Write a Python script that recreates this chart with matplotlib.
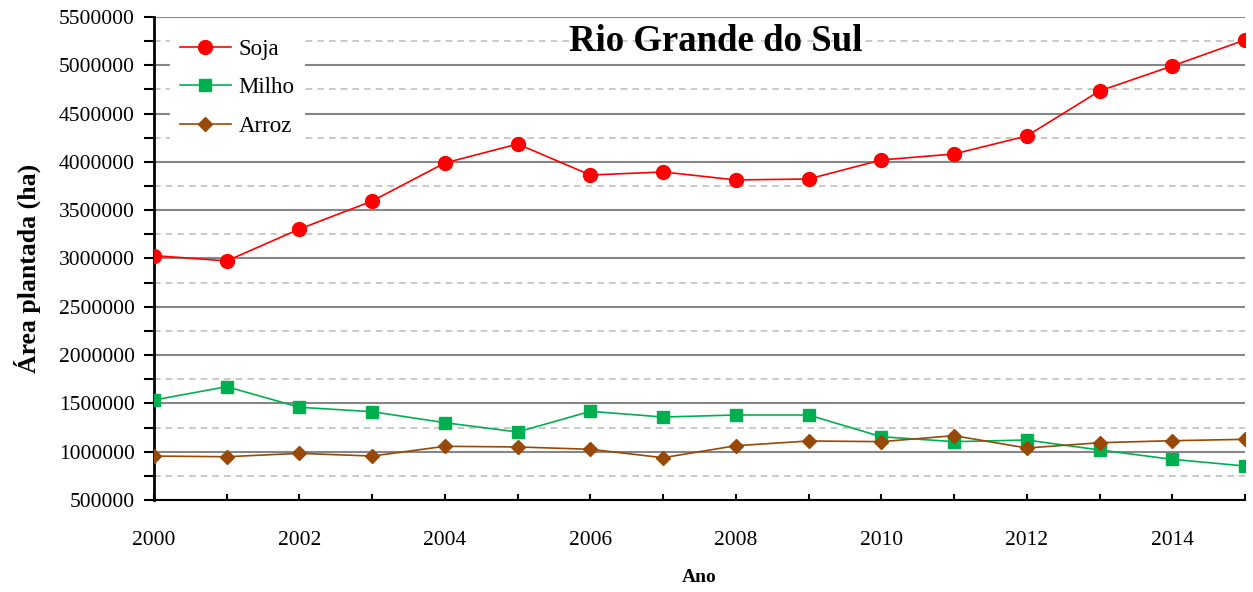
import numpy as np
import matplotlib.pyplot as plt
from matplotlib.ticker import MultipleLocator, FormatStrFormatter

plt.rcParams['font.family'] = ['Liberation Serif', 'DejaVu Serif']

anos = np.arange(2000, 2016)
soja = [3030000, 2975000, 3305000, 3595000, 3989000, 4185000, 3864000, 3896000,
        3813000, 3823000, 4020000, 4082000, 4268000, 4734000, 4993000, 5262000]
milho = [1535000, 1673000, 1460000, 1414000, 1300000, 1204000, 1418000, 1359000,
         1380000, 1380000, 1155000, 1104000, 1121000, 1018000, 921000, 852000]
arroz = [955000, 948000, 983000, 955000, 1056000, 1049000, 1025000, 938000,
         1062000, 1111000, 1104000, 1166000, 1038000, 1093000, 1114000, 1128000]

fig = plt.figure(figsize=(12.53, 5.92), dpi=100)
ax = fig.add_axes([0.1229, 0.1554, 0.8707, 0.8159])

ax.plot(anos, soja, color='#FF0000', marker='o', markersize=10, lw=1.2, label='Soja', zorder=3)
ax.plot(anos, milho, color='#00B050', marker='s', markersize=8, lw=1.2, label='Milho', zorder=3)
ax.plot(anos, arroz, color='#984807', marker='D', markersize=7, lw=1.2, label='Arroz', zorder=3)

ax.set_xlim(2000, 2015)
ax.set_ylim(500000, 5500000)
ax.set_xticks(range(2000, 2015, 2))
ax.xaxis.set_minor_locator(MultipleLocator(1))
ax.yaxis.set_major_locator(MultipleLocator(500000))
ax.yaxis.set_minor_locator(MultipleLocator(250000))
ax.yaxis.set_major_formatter(FormatStrFormatter('%d'))
ax.grid(axis='y', which='major', color='#868686', lw=1.5)
ax.grid(axis='y', which='minor', color='#C0C0C0', lw=1.2, ls=(0, (4, 3)))
ax.set_axisbelow(True)

for s in ['top', 'right']:
    ax.spines[s].set_visible(False)
ax.spines['bottom'].set_linewidth(1.5)
ax.spines['left'].set_linewidth(2)
ax.tick_params(axis='y', which='both', direction='out', length=7, width=1.5, labelsize=15.5, pad=7)
ax.tick_params(axis='x', which='both', direction='in', length=4, width=1.5, labelsize=15.5, pad=22)

ax.set_xlabel('Ano', fontsize=14, fontweight='bold', labelpad=14)
ax.set_ylabel('Área plantada (ha)', fontsize=18.5, fontweight='bold')
ax.yaxis.set_label_coords(-0.104, 0.48)
ax.text(0.515, 0.986, 'Rio Grande do Sul', transform=ax.transAxes, ha='center', va='top',
        fontsize=26.5, fontweight='bold')

leg = ax.legend(loc='upper left', bbox_to_anchor=(0.004, 1.0), frameon=True, fontsize=16.5,
                handlelength=2.2, handletextpad=0.35, labelspacing=0.77, borderpad=0.45)
leg.get_frame().set_edgecolor('none')
leg.get_frame().set_facecolor('white')
leg.get_frame().set_alpha(1)

fig.savefig('out.png', dpi=100)
